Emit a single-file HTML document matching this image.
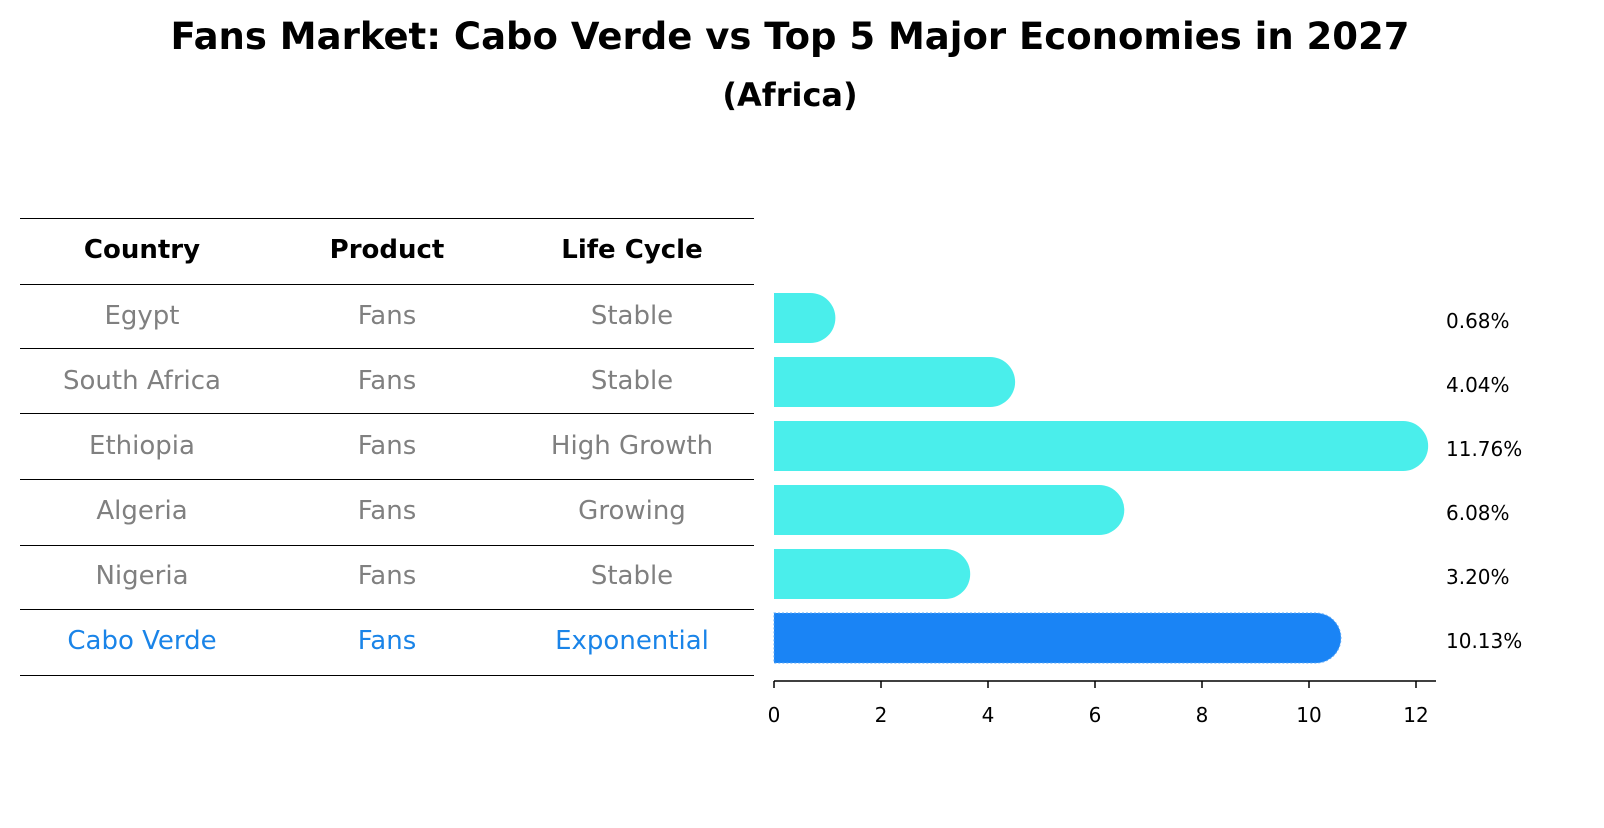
<!DOCTYPE html>
<html><head><meta charset="utf-8"><style>
body{margin:0;background:#fff;font-family:"Liberation Sans","DejaVu Sans",sans-serif;}
</style></head><body>
<svg width="1604" height="823" xmlns="http://www.w3.org/2000/svg" font-family="DejaVu Sans, Liberation Sans, sans-serif">
<text x="790" y="49" text-anchor="middle" font-size="37" font-weight="bold">Fans Market: Cabo Verde vs Top 5 Major Economies in 2027</text>
<text x="790" y="106" text-anchor="middle" font-size="32" font-weight="bold">(Africa)</text>
<g id="table"></g>
<g id="bars"></g>
</svg>
<script>
const countries=["Egypt","South Africa","Ethiopia","Algeria","Nigeria","Cabo Verde"];
const products=["Fans","Fans","Fans","Fans","Fans","Fans"];
const stages=["Stable","Stable","High Growth","Growing","Stable","Exponential"];
const values=[0.68,4.04,11.76,6.08,3.20,10.13];
const ticks=[0,2,4,6,8,10,12];
const NS="http://www.w3.org/2000/svg";
function mk(t,a,p){const e=document.createElementNS(NS,t);for(const k in a)e.setAttribute(k,a[k]);p.appendChild(e);return e;}
const tbl=document.getElementById('table'),bars=document.getElementById('bars');
const x=v=>774+v*53.5;
const rowY=i=>318+i*64;
const tRowY=i=>315+i*65;
const lines=[218,284,348,413,479,545,609,675];
lines.forEach(y=>{const l=mk('line',{x1:20,x2:754,y1:y+0.5,y2:y+0.5,stroke:'#000','stroke-width':1},tbl);

});
const cols=[142,387,632];
["Country","Product","Life Cycle"].forEach((h,j)=>{const t=mk('text',{x:cols[j],y:258,'text-anchor':'middle','font-size':26,'font-weight':'bold'},tbl);t.textContent=h;

});
countries.forEach((c,i)=>{const hl=i===countries.length-1;const col=hl?'#1a84e8':'#808080';
[c,products[i],stages[i]].forEach((v,j)=>{const t=mk('text',{x:cols[j],y:tRowY(i)+9,'text-anchor':'middle','font-size':26,fill:col},tbl);t.textContent=v;

});
const y0=rowY(i)-25,h=50,r=25,x0=x(0),x1=x(values[i]);
const p=mk('path',{d:`M${x0},${y0} H${x1} A${r},${r} 0 0 1 ${x1},${y0+h} H${x0} Z`,fill:hl?'#1a84f5':'#4aeeeb',stroke:hl?'#5aa8f8':'none','stroke-dasharray':hl?'2,2':'none'},bars);


const t=mk('text',{x:1446,y:rowY(i)+10,'font-size':20},bars);t.textContent=values[i].toFixed(2)+'%';

});
const ax=mk('line',{x1:774,x2:1436,y1:681,y2:681,stroke:'#000','stroke-width':1.5},bars);


ticks.forEach(v=>{const l=mk('line',{x1:x(v),x2:x(v),y1:681,y2:688,stroke:'#000','stroke-width':1.5},bars);


const t=mk('text',{x:x(v),y:722,'text-anchor':'middle','font-size':20},bars);t.textContent=v;

});
</script>
</body></html>
